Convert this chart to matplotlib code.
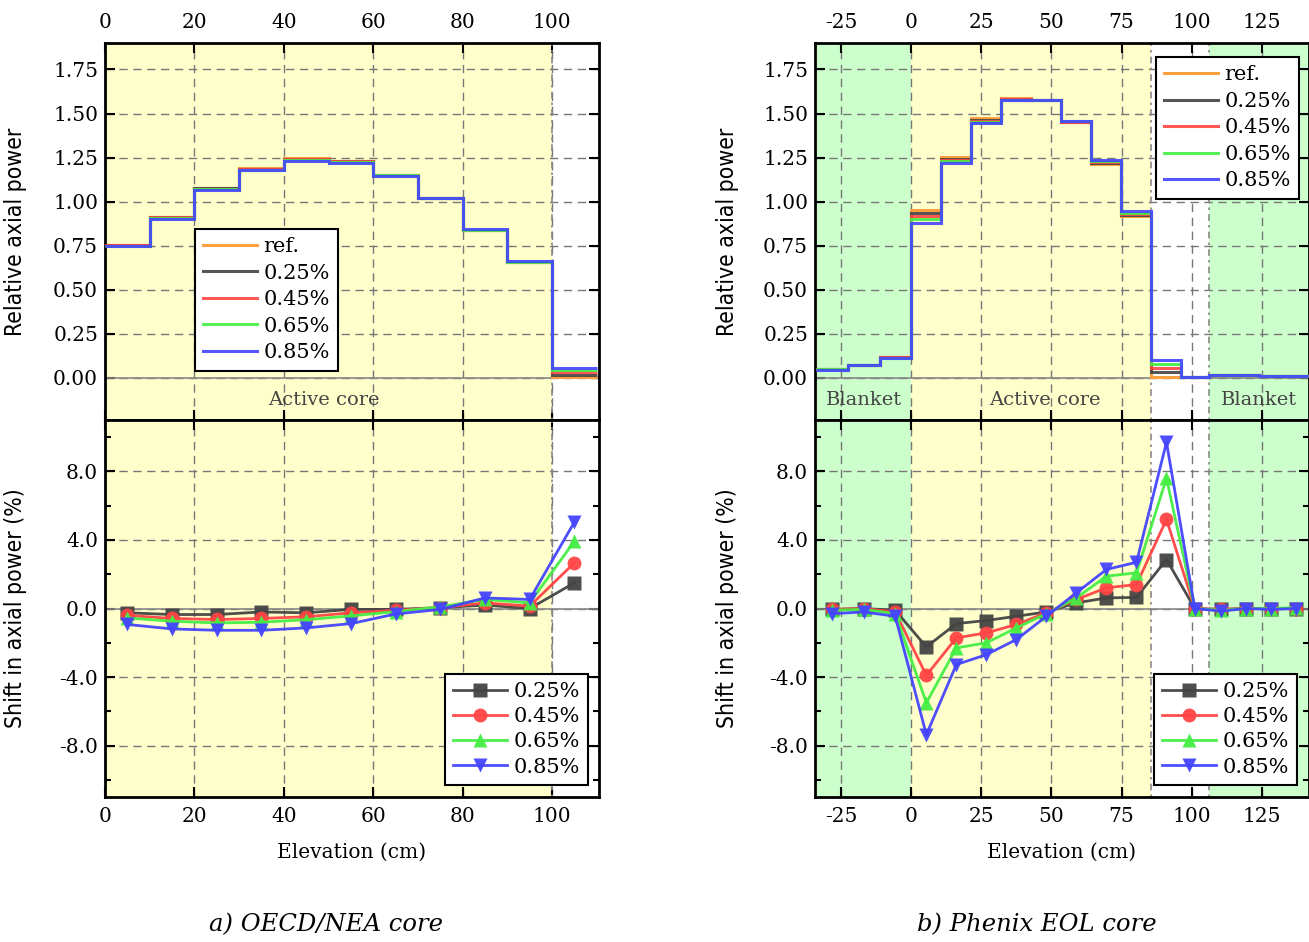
import matplotlib
matplotlib.use("Agg")
import matplotlib.pyplot as plt
from matplotlib.ticker import MultipleLocator, FormatStrFormatter

plt.rcParams['font.family'] = ['DejaVu Serif']
plt.rcParams['axes.unicode_minus'] = False

labels = ['0.25%', '0.45%', '0.65%', '0.85%']
ref_color = '#ffa040'
colors = ['#444444', '#ff4444', '#44ee44', '#4444ff']
markers = ['s', 'o', '^', 'v']

# ---- a) OECD/NEA core ----
left_edges = [0, 10, 20, 30, 40, 50, 60, 70, 80, 90, 100, 110]
left_ref = [0.755, 0.915, 1.078, 1.190, 1.245, 1.230, 1.152, 1.020, 0.836, 0.655, 0.003]
left_p025 = [0.753, 0.912, 1.075, 1.187, 1.242, 1.230, 1.152, 1.020, 0.838, 0.656, 0.017]
left_p045 = [0.751, 0.910, 1.073, 1.184, 1.240, 1.228, 1.151, 1.021, 0.839, 0.657, 0.030]
left_p065 = [0.750, 0.908, 1.070, 1.181, 1.238, 1.226, 1.150, 1.021, 0.841, 0.658, 0.042]
left_p085 = [0.746, 0.903, 1.065, 1.178, 1.233, 1.221, 1.148, 1.020, 0.842, 0.660, 0.053]

left_x = [5, 15, 25, 35, 45, 55, 65, 75, 85, 95, 105]
left_s025 = [-0.25, -0.35, -0.35, -0.20, -0.25, -0.05, -0.05, 0.05, 0.20, 0.00, 1.50]
left_s045 = [-0.40, -0.58, -0.64, -0.58, -0.48, -0.25, -0.10, 0.05, 0.33, 0.14, 2.67]
left_s065 = [-0.55, -0.74, -0.84, -0.80, -0.65, -0.43, -0.18, 0.10, 0.53, 0.33, 3.93]
left_s085 = [-0.93, -1.19, -1.27, -1.27, -1.13, -0.88, -0.32, -0.05, 0.62, 0.53, 5.05]

# ---- b) Phenix EOL core ----
right_edges = [-34, -22.6, -11.3, 0, 10.7, 21.4, 32.1, 42.8, 53.5, 64.2, 74.9, 85.6,
               96.3, 106, 114.9, 123.8, 132.7, 141.6]
right_ref = [0.048, 0.072, 0.117, 0.955, 1.252, 1.472, 1.588, 1.578, 1.450, 1.212, 0.918,
             0.003, 0.002, 0.015, 0.015, 0.012, 0.008]
right_p025 = [0.048, 0.072, 0.116, 0.933, 1.243, 1.463, 1.583, 1.577, 1.452, 1.219, 0.925,
              0.032, 0.002, 0.015, 0.015, 0.012, 0.008]
right_p045 = [0.048, 0.072, 0.116, 0.916, 1.235, 1.458, 1.580, 1.576, 1.453, 1.225, 0.932,
              0.055, 0.002, 0.015, 0.015, 0.012, 0.008]
right_p065 = [0.047, 0.071, 0.115, 0.900, 1.229, 1.452, 1.577, 1.576, 1.456, 1.231, 0.938,
              0.078, 0.002, 0.015, 0.015, 0.012, 0.008]
right_p085 = [0.045, 0.070, 0.113, 0.881, 1.219, 1.445, 1.574, 1.576, 1.459, 1.236, 0.945,
              0.101, 0.002, 0.014, 0.015, 0.012, 0.008]

right_x = [-28.3, -17.0, -5.7, 5.4, 16.1, 26.8, 37.5, 48.2, 58.9, 69.6, 80.3, 91.0,
           101.1, 110.5, 119.4, 128.3, 137.2]
right_s025 = [-0.05, 0.00, -0.10, -2.24, -0.88, -0.70, -0.45, -0.20, 0.33, 0.62, 0.65, 2.86,
              0.00, -0.05, 0.00, 0.00, 0.00]
right_s045 = [-0.05, 0.00, -0.20, -3.90, -1.71, -1.42, -0.93, -0.25, 0.53, 1.21, 1.40, 5.20,
              0.00, -0.05, 0.00, 0.00, 0.00]
right_s065 = [-0.10, -0.05, -0.30, -5.50, -2.30, -2.00, -1.13, -0.30, 0.62, 1.89, 2.08, 7.60,
              0.00, -0.10, 0.00, 0.00, 0.05]
right_s085 = [-0.30, -0.20, -0.45, -7.36, -3.27, -2.69, -1.81, -0.45, 0.92, 2.28, 2.70, 9.70,
              0.00, -0.15, 0.00, -0.05, 0.00]

yellow = '#ffffcc'
green = '#ccffcc'
tick_fs = 14.5
label_font = dict(family=['Liberation Sans Narrow', 'DejaVu Sans'], fontstretch='condensed',
                  fontsize=16.5)

fig = plt.figure(figsize=(13.09, 9.42), dpi=100)


def style_axes(ax):
    for s in ax.spines.values():
        s.set_linewidth(2)
    ax.tick_params(which='both', direction='in', top=True, right=True, width=1.5,
                   labelsize=tick_fs)
    ax.tick_params(which='major', length=7)
    ax.tick_params(which='minor', length=4)
    ax.grid(True, which='major', ls=(0, (6, 4)), color='#777777', lw=1)
    ax.set_axisbelow(True)
    ax.axhline(0, color='#888888', lw=1.2, zorder=1.5)


def draw_panel(x0, xlim, xstep, edges, steps, ref, px, shifts, regions, bounds, texts,
               leg_top, leg_bot, ylab_x):
    ax1 = fig.add_axes([x0, 0.5541, 0.3774, 0.4002])
    ax2 = fig.add_axes([x0, 0.1539, 0.3774, 0.4002])

    for ax in (ax1, ax2):
        for a, b, c in regions:
            ax.axvspan(a, b, color=c, lw=0, zorder=0)
        for b in bounds:
            ax.axvline(b, color='#888888', ls=(0, (1.5, 2.5, 4, 2.5)), lw=1.2, zorder=0.6)
        style_axes(ax)
        ax.set_xlim(*xlim)
        ax.xaxis.set_major_locator(MultipleLocator(xstep))

    # upper: relative axial power
    ax1.stairs(ref, edges, baseline=None, color=ref_color, lw=2.2, label='ref.', zorder=3)
    for vals, c, lab in zip(steps, colors, labels):
        ax1.stairs(vals, edges, baseline=None, color=c, lw=2.2, alpha=0.9, label=lab, zorder=3)
    ax1.set_ylim(-0.24, 1.90)
    ax1.yaxis.set_major_formatter(FormatStrFormatter('%.2f'))
    ax1.set_yticks([0, 0.25, 0.5, 0.75, 1.0, 1.25, 1.5, 1.75])
    ax1.tick_params(axis='x', labeltop=True, labelbottom=False, pad=8)
    ax1.tick_params(axis='y', pad=5)
    ax1.set_ylabel('Relative axial power', **label_font)
    ax1.yaxis.set_label_coords(ylab_x, 0.5)
    for tx, t in texts:
        ax1.text(tx, -0.125, t, ha='center', va='center', fontsize=14, color='#444444')
    leg = ax1.legend(loc=leg_top[0], bbox_to_anchor=leg_top[1], borderaxespad=0, fontsize=15,
                     fancybox=False, edgecolor='black', framealpha=1, handlelength=2.6,
                     handletextpad=0.3, labelspacing=0.36, borderpad=0.4)
    leg.get_frame().set_linewidth(1.5)

    # lower: shift in axial power
    for vals, c, m, lab in zip(shifts, colors, markers, labels):
        ax2.plot(px, vals, color=c, marker=m, ms=10, lw=2, alpha=0.95, mec='none',
                 label=lab, zorder=3)
    ax2.set_ylim(-11, 11)
    ax2.yaxis.set_major_locator(MultipleLocator(4))
    ax2.yaxis.set_minor_locator(MultipleLocator(2))
    ax2.yaxis.set_major_formatter(FormatStrFormatter('%.1f'))
    ax2.tick_params(axis='x', pad=7)
    ax2.tick_params(axis='y', pad=5)
    ax2.set_ylabel('Shift in axial power (%)', **label_font)
    ax2.yaxis.set_label_coords(ylab_x, 0.5)
    ax2.set_xlabel('Elevation (cm)', fontsize=14.5)
    ax2.xaxis.set_label_coords(0.5, -0.122)
    leg = ax2.legend(loc=leg_bot[0], bbox_to_anchor=leg_bot[1], borderaxespad=0, fontsize=15,
                     fancybox=False, edgecolor='black', framealpha=1, handlelength=2.6,
                     handletextpad=0.3, labelspacing=0.3, borderpad=0.4)
    leg.get_frame().set_linewidth(1.5)


draw_panel(0.0802, (0, 110.5), 20, left_edges,
           [left_p025, left_p045, left_p065, left_p085], left_ref,
           left_x, [left_s025, left_s045, left_s065, left_s085],
           [(0, 100, yellow)], [100], [(49, 'Active core')],
           ('upper left', (0.182, 0.507)), ('lower right', (0.978, 0.032)), -0.158)

draw_panel(0.6226, (-34.3, 141.8), 25, right_edges,
           [right_p025, right_p045, right_p065, right_p085], right_ref,
           right_x, [right_s025, right_s045, right_s065, right_s085],
           [(-40, 0, green), (0, 85.6, yellow), (106, 150, green)], [85.6, 106],
           [(-16.8, 'Blanket'), (47.5, 'Active core'), (124, 'Blanket')],
           ('upper right', (0.98, 0.963)), ('lower right', (0.976, 0.032)), -0.154)

fig.text(0.249, 0.018, 'a) OECD/NEA core', ha='center', va='center', fontsize=17.5, style='italic')
fig.text(0.792, 0.018, 'b) Phenix EOL core', ha='center', va='center', fontsize=17.5, style='italic')

fig.savefig('out.png', dpi=100)
